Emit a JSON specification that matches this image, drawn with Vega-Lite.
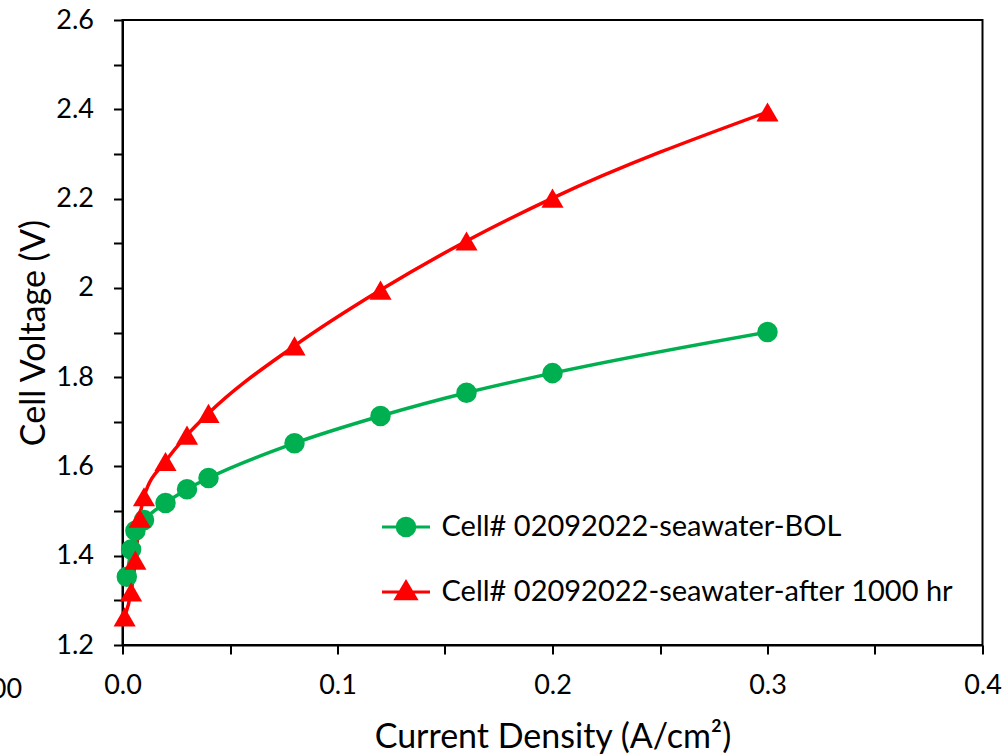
{
  "$schema": "https://vega.github.io/schema/vega-lite/v6.json",
  "width": 860,
  "height": 625,
  "autosize": {"type": "none"},
  "padding": {"left": 122.5, "top": 20, "right": 22.5, "bottom": 111},
  "background": "white",
  "config": {
    "font": "Lato",
    "view": {"stroke": "black", "strokeWidth": 2},
    "axis": {
      "domainColor": "black", "domainWidth": 2, "tickColor": "black", "tickWidth": 2,
      "tickSize": 9, "grid": false, "labelFont": "Lato", "labelFontSize": 27, "labelColor": "black",
      "titleFont": "Lato", "titleFontSize": 34, "titleFontWeight": "normal", "titleColor": "black"
    },
    "legend": {
      "title": null, "orient": "none", "padding": 0, "labelFont": "Lato", "labelFontSize": 29,
      "labelColor": "black", "labelOffset": 21, "labelLimit": 0, "symbolSize": 256,
      "symbolStrokeWidth": 3, "symbolOpacity": 1
    }
  },
  "data": {"values": [
    {"series": "Cell# 02092022-seawater-BOL", "x": 0.002, "y": 1.353},
    {"series": "Cell# 02092022-seawater-BOL", "x": 0.004, "y": 1.414},
    {"series": "Cell# 02092022-seawater-BOL", "x": 0.006, "y": 1.456},
    {"series": "Cell# 02092022-seawater-BOL", "x": 0.01, "y": 1.48},
    {"series": "Cell# 02092022-seawater-BOL", "x": 0.02, "y": 1.518},
    {"series": "Cell# 02092022-seawater-BOL", "x": 0.03, "y": 1.549},
    {"series": "Cell# 02092022-seawater-BOL", "x": 0.04, "y": 1.574},
    {"series": "Cell# 02092022-seawater-BOL", "x": 0.08, "y": 1.652},
    {"series": "Cell# 02092022-seawater-BOL", "x": 0.12, "y": 1.713},
    {"series": "Cell# 02092022-seawater-BOL", "x": 0.16, "y": 1.765},
    {"series": "Cell# 02092022-seawater-BOL", "x": 0.2, "y": 1.809},
    {"series": "Cell# 02092022-seawater-BOL", "x": 0.3, "y": 1.901},
    {"series": "Cell# 02092022-seawater-after 1000 hr", "x": 0.001, "y": 1.263},
    {"series": "Cell# 02092022-seawater-after 1000 hr", "x": 0.004, "y": 1.319},
    {"series": "Cell# 02092022-seawater-after 1000 hr", "x": 0.006, "y": 1.39},
    {"series": "Cell# 02092022-seawater-after 1000 hr", "x": 0.008, "y": 1.484},
    {"series": "Cell# 02092022-seawater-after 1000 hr", "x": 0.01, "y": 1.532},
    {"series": "Cell# 02092022-seawater-after 1000 hr", "x": 0.02, "y": 1.611},
    {"series": "Cell# 02092022-seawater-after 1000 hr", "x": 0.03, "y": 1.67},
    {"series": "Cell# 02092022-seawater-after 1000 hr", "x": 0.04, "y": 1.719},
    {"series": "Cell# 02092022-seawater-after 1000 hr", "x": 0.08, "y": 1.87},
    {"series": "Cell# 02092022-seawater-after 1000 hr", "x": 0.12, "y": 1.995},
    {"series": "Cell# 02092022-seawater-after 1000 hr", "x": 0.16, "y": 2.105},
    {"series": "Cell# 02092022-seawater-after 1000 hr", "x": 0.2, "y": 2.201},
    {"series": "Cell# 02092022-seawater-after 1000 hr", "x": 0.3, "y": 2.394}
  ]},
  "encoding": {
    "x": {
      "field": "x", "type": "quantitative",
      "scale": {"domain": [0, 0.4], "nice": false, "zero": false},
      "axis": {
        "title": "Current Density (A/cm²)",
        "values": [0, 0.05, 0.1, 0.15, 0.2, 0.25, 0.3, 0.35, 0.4],
        "labelExpr": "abs(datum.value*10 - round(datum.value*10)) < 0.01 ? format(datum.value, '.1f') : ''",
        "labelPadding": 18, "titlePadding": 22, "labelFlush": false, "labelOverlap": false
      }
    },
    "y": {
      "field": "y", "type": "quantitative",
      "scale": {"domain": [1.2, 2.6], "nice": false, "zero": false},
      "axis": {
        "title": "Cell Voltage (V)",
        "values": [1.2, 1.3, 1.4, 1.5, 1.6, 1.7, 1.8, 1.9, 2.0, 2.1, 2.2, 2.3, 2.4, 2.5, 2.6],
        "labelExpr": "abs(datum.value*5 - round(datum.value*5)) < 0.01 ? format(datum.value, '~g') : ''",
        "labelPadding": 20, "titlePadding": 4, "labelFlush": false, "labelOverlap": false
      }
    }
  },
  "layer": [
    {
      "mark": {"type": "line", "interpolate": "monotone", "strokeWidth": 3.5},
      "encoding": {
        "color": {
          "field": "series", "type": "nominal",
          "scale": {"domain": ["Cell# 02092022-seawater-BOL", "Cell# 02092022-seawater-after 1000 hr"], "range": ["#00B050", "#FF0000"]},
          "legend": null
        }
      }
    },
    {
      "mark": {"type": "point", "filled": true, "opacity": 1},
      "encoding": {
        "color": {
          "field": "series", "type": "nominal",
          "scale": {"domain": ["Cell# 02092022-seawater-BOL", "Cell# 02092022-seawater-after 1000 hr"], "range": ["#00B050", "#FF0000"]},
          "legend": null
        },
        "shape": {
          "field": "series", "type": "nominal",
          "scale": {"domain": ["Cell# 02092022-seawater-BOL", "Cell# 02092022-seawater-after 1000 hr"], "range": ["circle", "triangle-up"]},
          "legend": null
        },
        "size": {
          "field": "series", "type": "nominal",
          "scale": {"domain": ["Cell# 02092022-seawater-BOL", "Cell# 02092022-seawater-after 1000 hr"], "range": [420, 490]},
          "legend": null
        }
      }
    },
    {
      "transform": [{"filter": "datum.series === 'Cell# 02092022-seawater-BOL'"}],
      "mark": {"type": "point", "shape": "M-3,0H3M-1.1,0A1.1,1.1,0,1,1,1.1,0A1.1,1.1,0,1,1,-1.1,0Z", "fill": "#00B050", "stroke": "#00B050", "strokeWidth": 3, "opacity": 0},
      "encoding": {
        "fill": {
          "field": "series", "type": "nominal",
          "scale": {"domain": ["Cell# 02092022-seawater-BOL"], "range": ["#00B050"]},
          "legend": {"legendX": 269, "legendY": 492.5, "symbolStrokeColor": "#00B050"}
        }
      }
    },
    {
      "transform": [{"filter": "datum.series === 'Cell# 02092022-seawater-after 1000 hr'"}],
      "mark": {"type": "point", "shape": "M-3,0H3M-1.25,0.85L0,-1.25L1.25,0.85Z", "fill": "#FF0000", "stroke": "#FF0000", "strokeWidth": 3, "opacity": 0},
      "encoding": {
        "stroke": {
          "field": "series", "type": "nominal",
          "scale": {"domain": ["Cell# 02092022-seawater-after 1000 hr"], "range": ["#FF0000"]},
          "legend": {"legendX": 269, "legendY": 557.5, "symbolFillColor": "#FF0000"}
        }
      }
    },
    {
      "data": {"values": [{"label": "00", "x": -0.0467, "y": 1.0992}]},
      "mark": {"type": "text", "align": "right", "baseline": "middle", "font": "Lato", "fontSize": 27, "color": "black"},
      "encoding": {
        "text": {"field": "label", "type": "nominal"}
      }
    }
  ]
}
